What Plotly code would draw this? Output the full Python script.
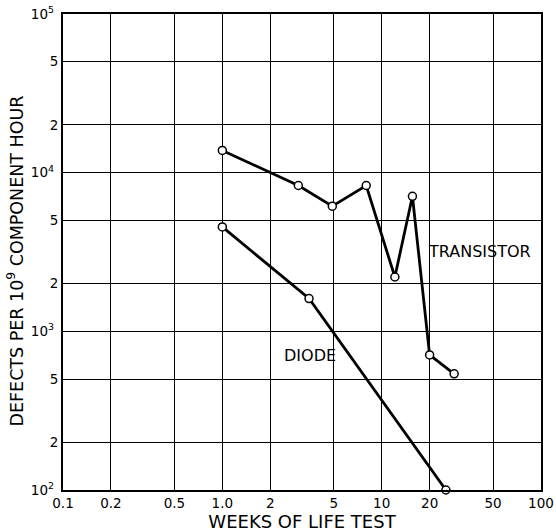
import plotly.graph_objects as go

# Data
transistor_weeks = [1.0, 3.0, 4.9, 8.0, 12.1, 15.6, 20.0, 28.5]
transistor_defects = [13800, 8300, 6150, 8300, 2200, 7100, 710, 540]
diode_weeks = [1.0, 3.5, 25.3]
diode_defects = [4550, 1610, 100]

x_tickvals = [0.1, 0.2, 0.5, 1, 2, 5, 10, 20, 50, 100]
x_ticktext = ["0.1", "0.2", "0.5", "1.0", "2", "5", "10", "20", "50", "100"]
y_tickvals = [100, 200, 500, 1000, 2000, 5000, 10000, 20000, 50000, 100000]
y_ticktext = ["10<sup>2</sup>\u00a0", "2", "5", "10<sup>3</sup>\u00a0", "2", "5",
              "10<sup>4</sup>\u00a0", "2", "5", "10<sup>5</sup>\u00a0"]

FONT = "DejaVu Sans"
W, H = 556, 532
L, R, T, B = 63, 541, 14, 490

fig = go.Figure()
marker = dict(symbol="circle", size=8, color="white", line=dict(color="black", width=1.5))
fig.add_trace(go.Scatter(x=transistor_weeks, y=transistor_defects, mode="lines+markers",
                         line=dict(color="black", width=2.8), marker=marker,
                         name="TRANSISTOR", showlegend=False, cliponaxis=False))
fig.add_trace(go.Scatter(x=diode_weeks, y=diode_defects, mode="lines+markers",
                         line=dict(color="black", width=2.8), marker=marker,
                         name="DIODE", showlegend=False, cliponaxis=False))

def paper(px, py):
    return (px - L) / (R - L), (B - py) / (B - T)

tx, ty = paper(479, 251)
dx, dy = paper(310, 355)
yx, yy = paper(15.5, 261)
fig.add_annotation(x=tx, y=ty, xref="paper", yref="paper", text="TRANSISTOR",
                   xanchor="center", yanchor="middle",
                   showarrow=False, font=dict(family=FONT, size=16, color="black"))
fig.add_annotation(x=dx, y=dy, xref="paper", yref="paper", text="DIODE",
                   xanchor="center", yanchor="middle",
                   showarrow=False, font=dict(family=FONT, size=16, color="black"))
fig.add_annotation(x=yx, y=yy, xref="paper", yref="paper",
                   text="DEFECTS PER 10<sup>9</sup> COMPONENT HOUR", textangle=-90,
                   xanchor="center", yanchor="middle",
                   showarrow=False, font=dict(family=FONT, size=17.5, color="black"))

axis_common = dict(type="log", showgrid=True, gridcolor="black", gridwidth=1.3,
                   showline=True, linecolor="black", linewidth=2, mirror=True,
                   ticks="", zeroline=False, automargin=False, ticklabeloverflow="allow",
                   tickfont=dict(family=FONT, size=13.5, color="black"))

fig.update_xaxes(**axis_common, range=[-1, 2], tickvals=x_tickvals, ticktext=x_ticktext,
                 title=dict(text="WEEKS OF LIFE TEST", font=dict(family=FONT, size=18, color="black"),
                            standoff=6))
fig.update_yaxes(**axis_common, range=[2, 5], tickvals=y_tickvals, ticktext=y_ticktext)

fig.update_layout(width=W, height=H, margin=dict(l=L, r=W - R, t=T, b=H - B),
                  plot_bgcolor="white", paper_bgcolor="white",
                  font=dict(family=FONT, color="black"))

# remove the browser's default 8 px body margin so the figure sits at the page origin
fig.write_html("out.html", config={"displayModeBar": False},
               post_script="document.body.style.margin='0';")
